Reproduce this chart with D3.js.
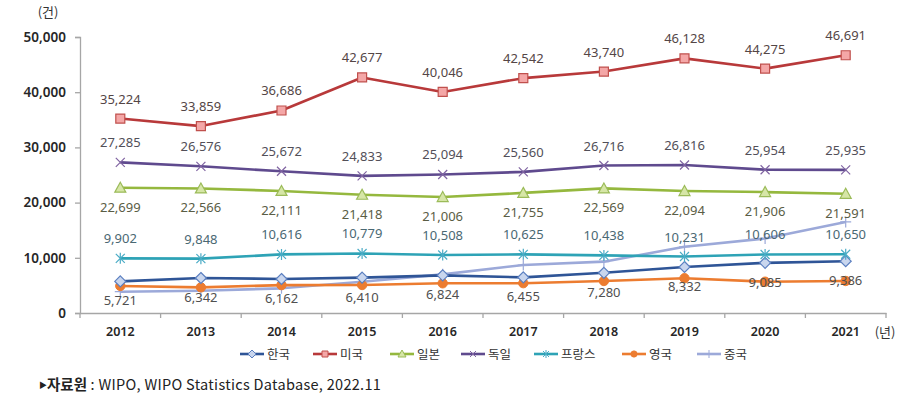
<!DOCTYPE html>
<html><head><meta charset="utf-8">
<script src="https://cdn.jsdelivr.net/npm/d3@7"></script>
<style>
html,body{margin:0;padding:0;background:#fff;}
svg{display:block;}
</style></head>
<body>
<svg id="chart" width="915" height="405"></svg>
<script>
const years = ["2012","2013","2014","2015","2016","2017","2018","2019","2020","2021"];
const korea   = [5721, 6342, 6162, 6410, 6824, 6455, 7280, 8332, 9085, 9386];
const usa     = [35224, 33859, 36686, 42677, 40046, 42542, 43740, 46128, 44275, 46691];
const japan   = [22699, 22566, 22111, 21418, 21006, 21755, 22569, 22094, 21906, 21591];
const germany = [27285, 26576, 25672, 24833, 25094, 25560, 26716, 26816, 25954, 25935];
const france  = [9902, 9848, 10616, 10779, 10508, 10625, 10438, 10231, 10606, 10650];
const uk      = [4900, 4650, 5050, 5070, 5380, 5400, 5800, 6300, 5670, 5800];
const china   = [3860, 4040, 4470, 5670, 7000, 8700, 9300, 12000, 13500, 16500];
const yTicks  = [0, 10000, 20000, 30000, 40000, 50000];

const series = [
  {name:"한국", data:korea, color:"#2f5597", marker:"diamond", mfill:"#c9d6ee", mstroke:"#5b7fc0", label:"below", lcolor:"#505050"},
  {name:"미국", data:usa, color:"#b8393a", marker:"square", mfill:"#f4a7a7", mstroke:"#c0504d", label:"above", lcolor:"#544646"},
  {name:"일본", data:japan, color:"#95b83e", marker:"triangle", mfill:"#d6e6a6", mstroke:"#9bbb59", label:"below", lcolor:"#5a5d45"},
  {name:"독일", data:germany, color:"#5f4a8e", marker:"x", mfill:"none", mstroke:"#8064a2", label:"above", lcolor:"#524f58"},
  {name:"프랑스", data:france, color:"#2ea3b6", marker:"asterisk", mfill:"none", mstroke:"#4bacc6", label:"above", lcolor:"#4a6873"},
  {name:"영국", data:uk, color:"#ec7c30", marker:"circle", mfill:"#ec7c30", mstroke:"#ec7c30", label:null},
  {name:"중국", data:china, color:"#9ca9d9", marker:"plus", mfill:"none", mstroke:"#9ca9d9", label:null}
];

const svg = d3.select("#chart");
const pLeft = 80, pRight = 886, pTop = 37, pBottom = 313;
const x = d3.scaleBand().domain(years).range([pLeft, pRight]);
const y = d3.scaleLinear().domain([0, 50000]).range([pBottom, pTop]);
const cx = d => x(d) + x.bandwidth()/2;

const numFont = "'Noto Sans', 'Liberation Sans', sans-serif";
const krFont = "'Noto Sans CJK KR', 'Noto Sans', sans-serif";

// Y axis
const yAxis = svg.append("g").attr("transform", `translate(${pLeft},0)`)
  .call(d3.axisLeft(y).tickValues(yTicks).tickSize(5).tickPadding(9).tickFormat(d3.format(",")));
yAxis.select(".domain").attr("stroke", "#a6a6a6").attr("stroke-width", 1.3);
yAxis.selectAll(".tick line").attr("stroke", "#a6a6a6").attr("stroke-width", 1.3);
yAxis.selectAll(".tick text").attr("font-family", numFont).attr("font-size", 13.5).attr("font-weight", 600).attr("fill", "#262626");

// X axis
const xAxis = svg.append("g").attr("transform", `translate(0,${pBottom})`)
  .call(d3.axisBottom(x).tickSize(0).tickPadding(14));
xAxis.select(".domain").attr("stroke", "#a6a6a6").attr("stroke-width", 1.3);
xAxis.selectAll(".tick text").attr("font-family", numFont).attr("font-size", 12.5).attr("font-weight", 600).attr("fill", "#262626");
// band boundary ticks
const bounds = years.map(d => x(d)).concat([pRight]);
svg.append("g").selectAll("line").data(bounds).join("line")
  .attr("x1", d => d).attr("x2", d => d).attr("y1", pBottom).attr("y2", pBottom + 5)
  .attr("stroke", "#a6a6a6").attr("stroke-width", 1.3);

// unit labels
svg.append("text").attr("x", 48).attr("y", 17).attr("text-anchor", "middle")
  .attr("font-family", krFont).attr("font-size", 13).attr("fill", "#333").text("(건)");
svg.append("text").attr("x", 885).attr("y", 337).attr("text-anchor", "middle")
  .attr("font-family", krFont).attr("font-size", 13).attr("fill", "#333").text("(년)");

// marker path
function markerPath(type, s) {
  const h = s/2;
  switch (type) {
    case "diamond": return `M0,${-h-1}L${h+1},0L0,${h+1}L${-h-1},0Z`;
    case "square": return `M${-h},${-h}H${h}V${h}H${-h}Z`;
    case "triangle": return `M0,${-h-1}L${h+1},${h}L${-h-1},${h}Z`;
    case "x": return `M${-h},${-h}L${h},${h}M${-h},${h}L${h},${-h}`;
    case "asterisk": return `M${-h},${-h}L${h},${h}M${-h},${h}L${h},${-h}M0,${-h-1}V${h+1}`;
    case "plus": return `M0,${-h-1}V${h+1}M${-h-1},0H${h+1}`;
    case "circle": return d3.symbol().type(d3.symbolCircle).size(s*s*0.85)();
  }
}

const line = d3.line().x((d,i) => cx(years[i])).y(d => y(d));

const order = [6,5,0,4,2,3,1];
order.forEach(k => {
  const s = series[k];
  const g = svg.append("g");
  g.append("path").attr("d", line(s.data)).attr("fill", "none")
    .attr("stroke", s.color).attr("stroke-width", 2.6).attr("stroke-linejoin", "round");
  g.selectAll("path.m").data(s.data).join("path").attr("class", "m")
    .attr("transform", (d,i) => `translate(${cx(years[i])},${y(d)})`)
    .attr("d", markerPath(s.marker, 9))
    .attr("fill", s.mfill).attr("stroke", s.mstroke).attr("stroke-width", s.marker === "circle" ? 1 : 1.2);
});

// labels
series.forEach(s => {
  if (!s.label) return;
  svg.append("g").selectAll("text").data(s.data).join("text")
    .attr("x", (d,i) => cx(years[i]))
    .attr("y", d => y(d) + (s.label === "above" ? -15 : 24))
    .attr("text-anchor", "middle")
    .attr("font-family", numFont).attr("font-size", 13).attr("fill", s.lcolor)
    .text(d => d3.format(",")(d));
});

// legend
const legendX = [240, 313, 390, 461, 534, 622, 697];
const lg = svg.append("g");
series.forEach((s, i) => {
  const gx = legendX[i], gy = 354;
  const g = lg.append("g").attr("transform", `translate(${gx},${gy})`);
  g.append("line").attr("x1", 0).attr("x2", 24).attr("y1", 0).attr("y2", 0)
    .attr("stroke", s.color).attr("stroke-width", 2.6);
  g.append("path").attr("transform", "translate(12,0)").attr("d", markerPath(s.marker, 6))
    .attr("fill", s.mfill).attr("stroke", s.mstroke).attr("stroke-width", 1);
  g.append("text").attr("x", 27).attr("y", 4.5).attr("font-family", krFont)
    .attr("font-size", 12.5).attr("fill", "#333").text(s.name);
});

// source
const src = svg.append("text").attr("x", 39).attr("y", 390)
  .attr("font-family", krFont).attr("font-size", 14.5).attr("fill", "#222");
src.append("tspan").attr("font-size", 8).attr("dy", -2).text("▶");
src.append("tspan").attr("font-weight", 700).attr("dy", 2).text("자료원");
src.append("tspan").attr("letter-spacing", 0.3).text(" : WIPO, WIPO Statistics Database, 2022.11");
</script>
</body></html>
